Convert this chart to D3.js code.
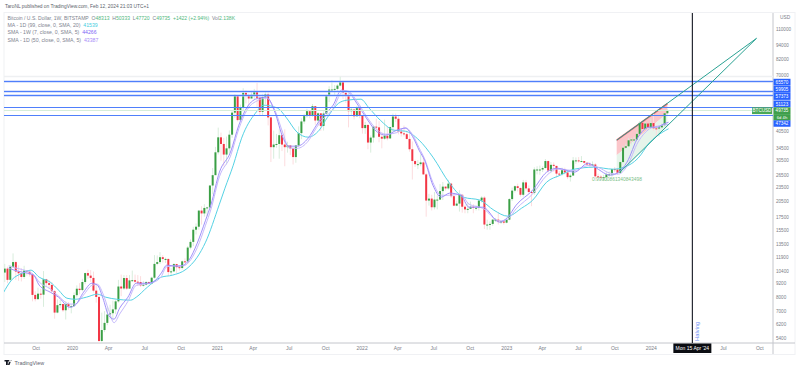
<!DOCTYPE html>
<html>
<head>
<meta charset="utf-8">
<script src="https://cdn.jsdelivr.net/npm/d3@7"></script>
<style>
html, body { margin: 0; padding: 0; background: #fff; }
text { font-family: "Liberation Sans", Arial, sans-serif; }
</style>
</head>
<body>
<div id="chart"></div>
<script>
// weekly BTCUSD, first bar Jul 8 2019
var firstWeek = "2019-07-08";
var closes = [
	10200,10600,9500,10800,11300,10300,10130,9770,10400,10280,10030,8200,7870,8300,8220,9550,9200,9040,8500,6900,7420,7500,7060,7510,7330,7350,
	8180,8710,8600,9300,10150,9900,9680,8550,8040,5230,5820,6240,6770,6860,7120,7700,8900,8730,9670,8720,9450,9470,9330,9300,9000,9060,9300,9160,9700,11100,11300,11850,11650,11650,10250,10320,11080,10750,10670,11380,11370,13020,13760,15500,15960,18680,18170,19170,19270,23860,26400,33000,
	38200,35800,32280,34300,39200,48600,57400,45200,50900,59000,57400,55800,57900,60000,56200,49000,56600,58200,46400,34700,35600,35800,39000,35600,34700,35300,34300,31500,35300,39800,44600,47000,49300,47100,51800,45000,48300,42700,48200,57400,60900,60900,61300,63300,65500,59000,57300,49300,50100,46900,50800,47300,
	41800,43100,36300,38100,42400,42100,38400,37700,38800,37800,42200,46800,45800,40400,39700,39400,37600,34000,30300,29400,29400,29900,26600,20600,21000,19300,20800,20800,22600,23600,23200,24300,21500,19600,20000,21800,19400,18900,19000,19400,19200,19200,20600,21200,16300,16300,16400,17100,17100,16800,16800,16600,
	17100,20900,22700,23700,23300,21800,24600,23200,22400,22200,27900,27900,27900,28300,30300,27600,29200,28900,26800,26700,27700,27100,25900,26300,30500,30500,30300,30300,29800,29300,29000,29300,26100,26000,25900,25900,26600,26600,28000,27900,27000,30000,34500,35000,37100,37400,37400,39500,44000,41400,43700,42100,
	43900,41700,41600,42100,43000,48313,49735
];
var highs = [
	13200,11100,10800,10950,12300,11450,10950,10650,10900,10450,10350,10150,8500,8800,8700,10350,9600,9450,9300,8600,7850,7800,7450,7700,7650,7500,
	8400,9000,9200,9600,10200,10500,10450,10300,9200,8150,6900,7000,7300,7450,7750,7800,9500,10000,9950,9950,9950,10400,10000,9950,9850,9400,9400,9350,9800,12100,12050,12450,12100,11800,11700,10650,11180,11100,10950,11480,11720,13220,14100,15950,16480,18800,19500,19900,19400,24000,28300,34800,
	42000,40000,38000,38500,40900,49700,58300,52600,52600,61700,60500,58600,60000,61300,64900,57500,58400,59500,59600,46600,40800,39500,41300,40900,41300,36600,35000,34600,35400,42500,46000,48100,50500,49500,52900,47000,48800,47300,49200,57800,62900,66900,63700,64200,69000,66400,59100,59000,51000,50500,51900,48500,
	47500,44400,43500,38900,42600,45800,44700,40000,45400,42300,42400,48200,48200,47000,41500,42900,40800,40000,36700,30700,30600,32400,31600,27000,22000,21800,22400,21700,24200,24700,23700,25200,24500,21800,20600,22800,21800,19700,20200,20400,19900,19700,20800,21500,21500,17100,16800,17200,17400,18400,17000,16900,
	17400,21100,23400,23900,24300,23400,25200,25200,23900,22800,28500,28800,29000,28800,30900,30500,30000,29900,28900,27500,28400,28400,27400,26800,31500,31400,31500,31800,30300,29900,30000,30200,29700,26800,26400,26500,27400,27400,28000,28600,27900,30300,35200,35900,37900,38000,38400,40300,44700,43500,44300,43000,
	45800,49000,43000,42800,43900,48500,50333
];
var lows = [
	9900,9300,9200,9400,10750,9500,9400,9350,9600,9900,9800,7700,7700,7800,7900,7300,8900,8700,8450,6500,6850,7200,6950,6450,7100,6850,
	7300,8000,8250,8500,9100,9600,9300,8400,7600,3850,4400,5700,6100,6500,6500,6800,7600,8100,8600,8600,8700,9300,9100,8950,8850,8900,9000,9100,9100,9600,10950,11100,11250,11200,9900,9900,10250,10150,10400,10500,11180,11100,12800,13200,14800,15500,16300,17600,17600,18900,21900,27700,
	32300,30400,28800,29300,32700,38000,46200,44600,45000,49200,53200,50400,56800,55500,50900,47000,47500,52800,42900,30000,31000,34500,31000,33400,28800,32900,32100,29300,29800,34800,37500,43600,46300,46000,46700,43200,43000,40700,40800,47100,53900,59900,57600,60100,62800,55600,53500,42100,47000,45500,47900,46000,
	39600,39500,34000,32900,36300,41000,36400,34300,37300,37100,37600,40500,44400,39300,38500,38500,37400,33200,25300,28600,28000,28800,26500,17600,19600,18700,18900,18900,20800,20700,22700,22900,21100,19500,19500,18500,18300,18200,18200,19300,18200,18700,18700,20200,15600,15500,15500,16100,16700,16300,16400,16300,
	16500,17000,20500,22300,22500,21400,21400,22700,21900,19500,21800,26600,26500,27200,28200,27100,26900,27300,25800,26300,26300,26600,25400,24800,26300,29500,29800,30100,29500,29000,28600,28800,25200,25600,25300,24900,24900,26000,26000,27200,26500,26700,29900,34100,34700,35600,36200,37600,39900,40600,41000,41500,
	41700,40700,38500,38500,41900,42300,47720
];

// averages, sampled at these week numbers
var cyanWeeks = [0,3,7,10,13,17,20,23,26,30,34,37,41,46,48,52,57,61,66,70,73,78,80,83,86,91,94,99,102,106,110,114,117,121,124,129,132,136,141,145,150,155,161,166,172,177,182,187,191,196,201,206,213,220,224,229,233,238,240];
var cyanMA = [8340,9470,10140,10440,9750,9290,8590,7940,7860,8020,8260,8020,7860,7790,8020,8840,9750,9940,10540,11850,13720,19890,23250,29100,37880,48370,52280,50790,46510,40180,38260,40960,46510,53300,54900,55430,50790,45170,40960,40570,37170,31480,24420,21290,20680,18750,17690,19130,20680,24660,26400,27990,28540,27990,28540,31170,36080,40300,41539];
var smaWeeks = [2,4,7,11,13,17,20,24,26,29,32,34,36,38,40,42,45,48,52,54,57,59,63,65,67,70,73,75,78,82,85,88,92,95,98,101,103,106,110,113,115,119,122,124,128,131,135,138,142,145,148,150,152,155,158,161,165,168,173,179,182,185,191,196,200,206,211,214,219,222,225,229,233,236,238,240];
var smaWeekly = [10650,10440,10240,9940,9020,8420,8020,7270,7420,8420,9190,9020,7940,6730,6470,7200,8020,9190,9190,9290,10140,10960,10850,10960,11510,13590,17000,19890,27180,33060,43020,51290,55990,56550,48840,37880,35040,35040,37880,43020,46510,52280,60550,59950,52280,46060,40180,39030,40960,41770,37880,33700,30550,23930,21290,22150,21720,19310,19310,16680,17520,19690,22800,27180,28260,27180,29680,28260,26400,27180,29970,38260,42180,42180,43400,44266];
var smaDaily = [10900,10700,10500,10000,9300,8700,8100,7500,7500,8200,9000,9100,8300,7100,6250,6800,7700,9000,9150,9250,9800,10800,10900,10900,11300,13000,16200,19000,26000,31800,41500,50000,54800,56000,49800,39500,34500,34300,36800,42000,45200,50500,59000,60200,53500,47000,41000,39400,40000,42000,38600,34500,31000,24600,21700,21700,21900,19900,19100,16900,17200,19000,22000,26300,28000,27600,29000,28700,26900,26700,28800,36500,41400,42600,43100,43387];

var priceTicks = [110000,94000,82000,70000,40500,34500,30500,26500,23500,20500,17500,15500,13500,11900,10400,9200,8000,7000,6200,5400];
var timeTicks = ["2019-10-01","2020-01-01","2020-04-01","2020-07-01","2020-10-01","2021-01-01","2021-04-01","2021-07-01","2021-10-01","2022-01-01","2022-04-01","2022-07-01","2022-10-01","2023-01-01","2023-04-01","2023-07-01","2023-10-01","2024-01-01","2024-07-01","2024-10-01"];
var timeLabels = ["Oct","2020","Apr","Jul","Oct","2021","Apr","Jul","Oct","2022","Apr","Jul","Oct","2023","Apr","Jul","Oct","2024","Jul","Oct"];
var levels = [65570,59905,57373,51123,47342];
var lastPrice = 49735;
var halvingDate = "2024-04-15";

// the drawn wedge, as date / price anchors
var wedgeUpper = [["2023-10-07",37150],["2024-09-24",100400]];
var wedgeLower = [["2023-10-16",27260],["2024-09-24",100400]];
var pinkEdge = [["2023-10-07",37150],["2024-02-12",53100]];
var pinkZone = [["2023-10-07",37150],["2024-02-12",53100],["2024-02-12",48370],["2023-10-07",32080]];
var greenZone = [["2023-10-07",32080],["2024-02-12",48370],["2024-02-12",42460],["2023-10-16",27260],["2023-10-07",27260]];

var width = 800, height = 370;
var plot = {left: 4, right: 773, top: 13, bottom: 343};
var parse = d3.utcParse("%Y-%m-%d");

var weeks = d3.utcMonday.range(parse(firstWeek), d3.utcDay.offset(parse(firstWeek), closes.length * 7));
var candles = closes.map(function (c, i) {
	return {date: weeks[i], open: i ? closes[i - 1] : 11450, close: c, high: highs[i], low: lows[i]};
});

var x = d3.scaleUtc().domain([parse("2019-07-22"), parse("2024-10-01")]).range([7.5, 759.3]);
var y = d3.scaleLog().domain([5400, 110000]).range([337.7, 29]);

var svg = d3.select("#chart").append("svg").attr("width", width).attr("height", height);
svg.append("defs").append("clipPath").attr("id", "plotClip").append("rect")
	.attr("x", plot.left).attr("y", plot.top)
	.attr("width", plot.right - plot.left).attr("height", plot.bottom - plot.top);

// frame
svg.append("rect").attr("x", 4).attr("y", 12.5).attr("width", 791).attr("height", 342)
	.attr("fill", "none").attr("stroke", "#f0f1f4");
svg.append("line").attr("x1", plot.left).attr("x2", 795).attr("y1", plot.bottom).attr("y2", plot.bottom)
	.attr("stroke", "#c4c6cc");
svg.append("line").attr("x1", plot.right).attr("x2", plot.right).attr("y1", plot.top).attr("y2", 354)
	.attr("stroke", "#c4c6cc");

var chart = svg.append("g").attr("clip-path", "url(#plotClip)");

function anchor(p) { return x(parse(p[0])) + "," + y(p[1]); }

chart.append("line").attr("x1", plot.left).attr("x2", plot.right).attr("y1", 76.5).attr("y2", 76.5)
	.attr("stroke", "#eef0f2").attr("stroke-width", 1.5);

// zones behind the bars
chart.append("polygon").attr("points", pinkZone.map(anchor).join(" ")).attr("fill", "#fbc6ca");
chart.append("polygon").attr("points", greenZone.map(anchor).join(" ")).attr("fill", "#e6f4ea");
chart.append("polyline").attr("points", pinkEdge.map(anchor).join(" ")).attr("fill", "none")
	.attr("stroke", "#f2545f").attr("stroke-width", 1.6);

// wicks then bodies
chart.selectAll(".wick").data(candles).enter().append("line")
	.attr("class", "wick")
	.attr("x1", function (d) { return x(d.date); })
	.attr("x2", function (d) { return x(d.date); })
	.attr("y1", function (d) { return y(d.high); })
	.attr("y2", function (d) { return y(d.low); })
	.attr("stroke", function (d) { return d.close >= d.open ? "#d8eddc" : "#fcdcde"; })
	.attr("stroke-width", 1);

chart.selectAll(".body").data(candles).enter().append("rect")
	.attr("class", "body")
	.attr("x", function (d) { return x(d.date) - 1; })
	.attr("width", 2)
	.attr("y", function (d) { return y(Math.max(d.open, d.close)); })
	.attr("height", function (d) { return Math.max(1, Math.abs(y(d.open) - y(d.close))); })
	.attr("fill", function (d) { return d.close >= d.open ? "#3a9f45" : "#f23645"; });

// moving averages
function drawMA(weekIdx, values, color, w) {
	var line = d3.line()
		.x(function (d, i) { return x(d3.utcDay.offset(weeks[weekIdx[i]], 3.5)); })
		.y(function (d) { return y(d); })
		.curve(d3.curveMonotoneX);
	chart.append("path").datum(values).attr("d", line)
		.attr("fill", "none").attr("stroke", color).attr("stroke-width", w);
}
drawMA(cyanWeeks, cyanMA, "#55d2e4", 1);
drawMA(smaWeeks, smaDaily, "#c5b9fc", 1);
drawMA(smaWeeks, smaWeekly, "#9f8ffa", 1);

// levels
levels.forEach(function (l, i) {
	var ly = Math.floor(y(l)) + 0.5;
	if (i < 3) {
		chart.append("line").attr("x1", plot.left).attr("x2", plot.right)
			.attr("y1", ly).attr("y2", ly).attr("stroke", "#b4c6fc").attr("stroke-width", 2);
	}
	chart.append("line").attr("x1", plot.left).attr("x2", plot.right)
		.attr("y1", ly).attr("y2", ly).attr("stroke", "#4f7ffb").attr("stroke-width", 1);
});
var py = Math.floor(y(lastPrice)) + 0.5;
chart.append("line").attr("x1", plot.left).attr("x2", plot.right)
	.attr("y1", py).attr("y2", py).attr("stroke", "#d6edda").attr("stroke-width", 1);

// wedge lines
[wedgeUpper, wedgeLower].forEach(function (seg) {
	chart.append("line")
		.attr("x1", x(parse(seg[0][0]))).attr("y1", y(seg[0][1]))
		.attr("x2", x(parse(seg[1][0]))).attr("y2", y(seg[1][1]))
		.attr("stroke", "#2aa293").attr("stroke-width", 1);
});

// halving marker
var hx = x(parse(halvingDate));
svg.append("line").attr("x1", hx).attr("x2", hx).attr("y1", plot.top).attr("y2", plot.bottom)
	.attr("stroke", "#131722").attr("stroke-width", 1.1);
svg.append("text").attr("transform", "translate(" + (hx + 6.5) + ",341) rotate(-90)")
	.attr("font-size", 5.8).attr("fill", "#6f90f6").text("Halving");

chart.append("text").attr("x", 592).attr("y", 181).attr("font-size", 4.85).attr("fill", "#7cc087")
	.text("0.99900861340843498");

// axes
var axisGray = "#7a7d88";
var yAxis = d3.axisRight(y).tickValues(priceTicks).tickSize(0).tickPadding(3).tickFormat(d3.format("d"));
var gy = svg.append("g").attr("transform", "translate(" + plot.right + ",0)").call(yAxis);
gy.select(".domain").remove();
gy.selectAll("text").attr("font-size", 4.6).attr("fill", axisGray).attr("font-family", '"Liberation Sans", sans-serif');

var xAxis = d3.axisBottom(x).tickValues(timeTicks.map(parse)).tickSize(0).tickPadding(3)
	.tickFormat(function (d, i) { return timeLabels[i]; });
var gx = svg.append("g").attr("transform", "translate(0," + plot.bottom + ")").call(xAxis);
gx.select(".domain").remove();
gx.selectAll("text").attr("font-size", 5).attr("fill", axisGray).attr("font-family", '"Liberation Sans", sans-serif');

svg.append("text").attr("x", 780).attr("y", 18.5).attr("font-size", 4.8).attr("fill", axisGray).text("USD");

// price tags on the axis, stacked so they do not collide
function tag(px, top, w, h, fill, label, size) {
	svg.append("rect").attr("x", px).attr("y", top).attr("width", w).attr("height", h).attr("fill", fill);
	svg.append("text").attr("x", px + w / 2).attr("y", top + h / 2 + 1.7).attr("text-anchor", "middle")
		.attr("font-size", size || 4.6).attr("fill", "#fff").text(label);
}
tag(773.5, y(levels[0]) - 3.2, 17, 6.8, "#2962ff", String(levels[0]));
tag(773.5, y(levels[1]) - 5.4, 17, 6.8, "#2962ff", String(levels[1]));
tag(773.5, y(levels[2]) - 3, 17, 7.2, "#2962ff", String(levels[2]));
tag(773.5, y(levels[3]) - 7, 17, 6.8, "#2962ff", String(levels[3]));
tag(773.5, y(lastPrice) - 3, 17, 6.8, "#3f9f4c", String(lastPrice));
tag(773.5, y(lastPrice) + 3.8, 17, 6.4, "#3f9f4c", "6d 4h", 4.2);
tag(773.5, y(levels[4]) + 5, 17, 6.4, "#2962ff", String(levels[4]));
tag(752, y(lastPrice) - 3, 20, 6.8, "#4aa856", "BTCUSD");

// date tag
svg.append("rect").attr("x", hx - 19).attr("y", 343.5).attr("width", 38).attr("height", 9.5).attr("fill", "#0b0d12");
svg.append("text").attr("x", hx).attr("y", 350).attr("text-anchor", "middle")
	.attr("font-size", 5).attr("fill", "#fff").text("Mon 15 Apr '24");

// header
svg.append("text").attr("x", 5).attr("y", 8).attr("font-size", 4.85).attr("fill", "#5b5f6a")
	.text("TaroNL published on TradingView.com, Feb 12, 2024 21:03 UTC+1");

var legendGreen = "#52b87e", legendGray = "#808490";
var row0 = svg.append("text").attr("x", 7.5).attr("y", 20).attr("font-size", 5.05).attr("fill", legendGray);
[["Bitcoin / U.S. Dollar, 1W, BITSTAMP  O", legendGray], ["48313", legendGreen], ["  H", legendGray], ["50333", legendGreen],
 ["  L", legendGray], ["47720", legendGreen], ["  C", legendGray], ["49735", legendGreen], ["  +1422 (+2.94%)", legendGreen],
 ["  Vol", legendGray], ["2.138K", legendGreen]].forEach(function (p) {
	row0.append("tspan").attr("fill", p[1]).text(p[0].replace(/  /g, "\u00a0\u00a0"));
});
var maRows = [["MA - 1D (99, close, 0, SMA, 20)", "41539", "#45cde0"],
	["SMA - 1W (7, close, 0, SMA, 5)", "44266", "#7d66f5"],
	["SMA - 1D (50, close, 0, SMA, 5)", "43387", "#a78df7"]];
maRows.forEach(function (r, i) {
	var t = svg.append("text").attr("x", 7.5).attr("y", 27 + i * 7.4).attr("font-size", 5.2).attr("fill", legendGray);
	t.append("tspan").text(r[0] + "\u00a0\u00a0");
	t.append("tspan").attr("fill", r[2]).text(r[1]);
});

// logo
svg.append("path").attr("d", "M4.5 360h4.5v1.5h-1.2v3.5h-1.8v-3.5h-1.5z M9.5 360h2l-2 5h-1.5z M10 360a1 1 0 1 0 0.01 0z")
	.attr("fill", "#131722");
svg.append("text").attr("x", 14.5).attr("y", 364.5).attr("font-size", 5.4).attr("fill", "#60636e").text("TradingView");
</script>
</body>
</html>
